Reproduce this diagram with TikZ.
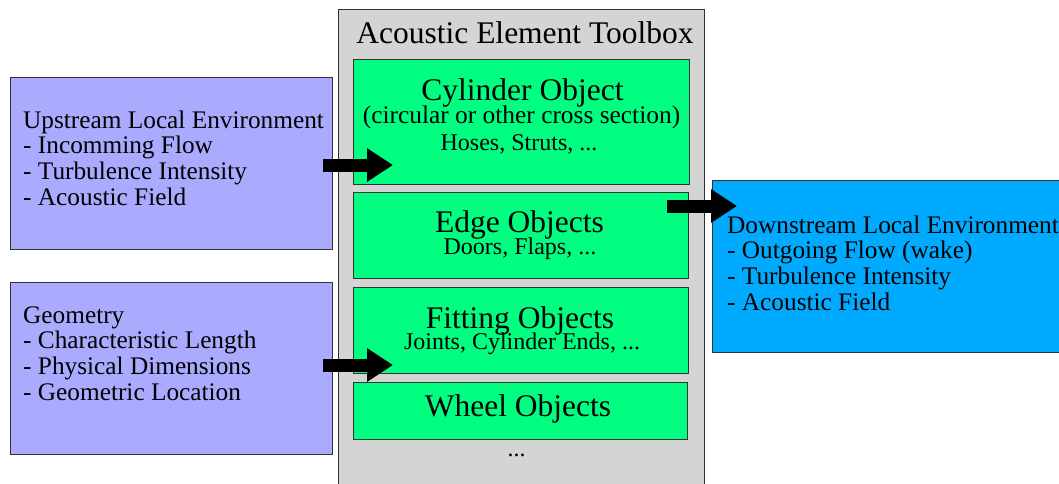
\documentclass[tikz,border=0pt]{standalone}
\usepackage{fontspec}
\setmainfont{Liberation Serif}
\usetikzlibrary{arrows.meta}
\definecolor{tbgray}{RGB}{212,212,212}
\definecolor{objgreen}{RGB}{0,255,128}
\definecolor{envlav}{RGB}{170,170,255}
\definecolor{envblue}{RGB}{0,170,255}
\definecolor{edgecol}{RGB}{50,50,50}
\tikzset{
  panel/.style={draw=edgecol, line width=0.9pt, inner sep=0pt, outer sep=0pt},
  big/.style={font=\fontsize{31.5}{33}\selectfont, inner sep=0pt, anchor=base},
  small/.style={font=\fontsize{24}{26}\selectfont, inner sep=0pt, anchor=base},
  envtext/.style={font=\fontsize{25.3}{25.7}\selectfont, inner sep=0pt, anchor=base west},
  bigarrow/.style={line width=13pt, -{Triangle[length=26pt,width=32pt]}},
}
\begin{document}
\begin{tikzpicture}[x=1pt,y=-1pt]
\useasboundingbox (0,0) rectangle (1059,483);
\clip (0,0) rectangle (1059,483);
\fill[white] (0,0) rectangle (1059,483);
% toolbox
\node[panel, fill=tbgray, minimum width=366pt, minimum height=521pt] (tb) at (521,269.5) {};
\node[big] (tbtitle) at (525,43) {Acoustic Element Toolbox};
% objects
\node[panel, fill=objgreen, minimum width=336pt, minimum height=125pt] (cyl) at (521,121.5) {};
\node[panel, fill=objgreen, minimum width=335pt, minimum height=86pt] (edge) at (520.5,235) {};
\node[panel, fill=objgreen, minimum width=335pt, minimum height=86pt] (fitt) at (520.5,330) {};
\node[panel, fill=objgreen, minimum width=334pt, minimum height=57pt] (wheel) at (520,410.5) {};
\node[big] (cylt) at (522.5,100) {Cylinder Object};
\node[small, font=\fontsize{25.4}{26}\selectfont] (cyls) at (521.5,123) {(circular or other cross section)};
\node[small] (cylx) at (519,150) {Hoses, Struts, ...};
\node[big] (edget) at (519.5,232) {Edge Objects};
\node[small] (edgex) at (520,254) {Doors, Flaps, ...};
\node[big] (fitt t) at (520,328) {Fitting Objects};
\node[small] (fittx) at (522,349) {Joints, Cylinder Ends, ...};
\node[big] (wheelt) at (518,416) {Wheel Objects};
\node[small] (more) at (516.5,456) {...};
% environment boxes
\node[panel, fill=envlav, minimum width=322pt, minimum height=172pt] (up) at (171,163) {};
\node[panel, fill=envlav, minimum width=322pt, minimum height=172pt] (geo) at (171,368) {};
\node[panel, fill=envblue, minimum width=368pt, minimum height=172pt] (down) at (896,266) {};
\node[envtext] (upt) at (23,128) {\begin{tabular}[t]{@{}l@{}}Upstream Local Environment\\- Incomming Flow\\- Turbulence Intensity\\- Acoustic Field\end{tabular}};
\node[envtext] (geot) at (23,323) {\begin{tabular}[t]{@{}l@{}}Geometry\\- Characteristic Length\\- Physical Dimensions\\- Geometric Location\end{tabular}};
\node[envtext] (downt) at (727,233) {\begin{tabular}[t]{@{}l@{}}Downstream Local Environment\\- Outgoing Flow (wake)\\- Turbulence Intensity\\- Acoustic Field\end{tabular}};
% arrows
\coordinate (a1s) at (323,165);
\coordinate (a1e) at (393,165);
\coordinate (a2s) at (323,365);
\coordinate (a2e) at (393,365);
\coordinate (a3s) at (667,206);
\coordinate (a3e) at (737,206);
\draw[bigarrow] (a1s) -- (a1e);
\draw[bigarrow] (a2s) -- (a2e);
\draw[bigarrow] (a3s) -- (a3e);
\end{tikzpicture}
\end{document}
